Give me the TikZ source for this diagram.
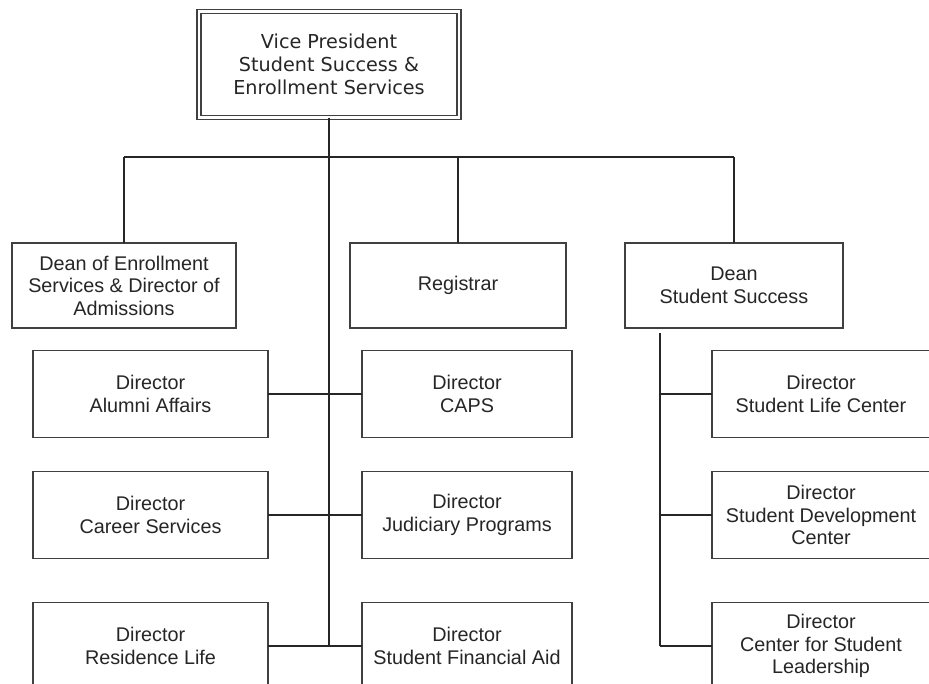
\documentclass[tikz,border=0pt]{standalone}
\usepackage{fontspec}
\setmainfont{Liberation Sans}
\newfontfamily\vpfont{DejaVu Sans}
\begin{document}
\begin{tikzpicture}[x=1pt,y=-1pt,
  every node/.style={inner sep=0pt, outer sep=0pt},
  unit/.style={draw=black!75, line width=1.4pt, fill=white, align=center,
    text=black!85, font=\fontsize{19.8}{22.5}\selectfont},
  wide/.style={unit, minimum width=235pt, minimum height=87pt},
  mid/.style={unit, minimum width=210pt, minimum height=87pt},
  side/.style={unit, minimum width=218pt, minimum height=87pt},
  head/.style={unit, minimum height=85pt},
  top/.style={draw=black!75, line width=1.3pt, double=white, double distance=2.6pt,
    fill=white, align=center, text=black!85, minimum width=260pt, minimum height=106pt,
    font=\vpfont\fontsize{19.2}{23}\selectfont},
  link/.style={draw=black!85, line width=1.3pt}
]
\fill[white] (0,0) rectangle (929,683);
\useasboundingbox (0,0) rectangle (929,683);

% head of the division
\node[top] (vp) at (329,64.5) {Vice President\\Student Success \&\\Enrollment Services};

% first level
\node[head, minimum width=224pt] (doe) at (124,285.5) {Dean of Enrollment\\Services \& Director of\\Admissions};
\node[head, minimum width=216pt] (reg) at (458,285.5) {Registrar};
\node[head, minimum width=218pt] (dss) at (734,285.5) {Dean\\Student Success};

% directors reporting to the vice president
\node[wide] (alu) at (150.5,394) {Director\\Alumni Affairs};
\node[mid]  (caps) at (467,394) {Director\\CAPS};
\node[wide] (car) at (150.5,515) {Director\\Career Services};
\node[mid]  (jud) at (467,515) {Director\\Judiciary Programs};
\node[wide] (res) at (150.5,646) {Director\\Residence Life};
\node[mid]  (sfa) at (467,646) {Director\\Student Financial Aid};

% directors reporting to the dean of student success
\node[side] (slc) at (821,394) {Director\\Student Life Center};
\node[side] (sdc) at (821,515) {Director\\Student Development\\Center};
\node[side] (csl) at (821,646) {Director\\Center for Student\\Leadership};

% bus and trunk
\coordinate (busL) at (124,157);
\coordinate (busR) at (734,157);
\coordinate (trunkEnd) at (329,646);
\draw[link] (busL) -- (busR);
\draw[link] (vp.south) -- (trunkEnd);
\draw[link] (doe.north) -- (doe.north |- busL);
\draw[link] (reg.north) -- (reg.north |- busL);
\draw[link] (dss.north) -- (dss.north |- busL);

% rows crossing the trunk
\draw[link] (alu.east) -- (caps.west);
\draw[link] (car.east) -- (jud.west);
\draw[link] (res.east) -- (sfa.west);

% dean of student success branch
\coordinate (dssTop) at (660,333);
\coordinate (dssEnd) at (660,646);
\draw[link] (dssTop) -- (dssEnd);
\draw[link] (slc.west) -- (slc.west -| dssTop);
\draw[link] (sdc.west) -- (sdc.west -| dssTop);
\draw[link] (csl.west) -- (dssEnd);
\end{tikzpicture}
\end{document}
